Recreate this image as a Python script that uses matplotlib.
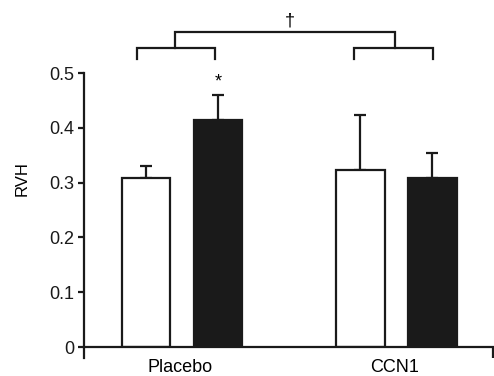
import matplotlib
matplotlib.use('Agg')
import matplotlib.pyplot as plt

# ── Data ───────────────────────────────────────────────
groups      = ['Placebo', 'CCN1']
white_vals  = [0.308, 0.323]
white_err   = [0.022, 0.100]
black_vals  = [0.414, 0.309]
black_err   = [0.046, 0.045]
yticks      = [0, 0.1, 0.2, 0.3, 0.4, 0.5]
ytick_lbls  = ['0', '0.1', '0.2', '0.3', '0.4', '0.5']

# ── Layout ─────────────────────────────────────────────
group_pos = [0.24, 0.764]
offset    = 0.088
width     = 0.118
LW        = 1.6
INK       = '#1a1a1a'

plt.rcParams['font.family'] = ['Liberation Sans', 'DejaVu Sans']

fig = plt.figure(figsize=(4.94, 3.76), dpi=100)
ax = fig.add_axes([84 / 494, 29 / 376, 409 / 494, 337 / 376])

wx = [g - offset for g in group_pos]
bx = [g + offset for g in group_pos]

ax.bar(wx, white_vals, width=width, color='white', edgecolor=INK, linewidth=LW, zorder=2)
ax.bar(bx, black_vals, width=width, color=INK, edgecolor=INK, linewidth=LW, zorder=2)
ax.errorbar(wx, white_vals, yerr=[[0, 0], white_err], fmt='none', ecolor=INK,
            elinewidth=LW, capsize=4.5, capthick=LW, zorder=1)
ax.errorbar(bx, black_vals, yerr=[[0, 0], black_err], fmt='none', ecolor=INK,
            elinewidth=LW, capsize=4.5, capthick=LW, zorder=1)

ax.set_xlim(0, 1)
ax.set_ylim(0, 0.615)

# axes styling
for s in ['top', 'right']:
    ax.spines[s].set_visible(False)
ax.spines['left'].set_bounds(-0.02, 0.5)
for s in ['left', 'bottom']:
    ax.spines[s].set_linewidth(LW)
    ax.spines[s].set_color(INK)

ax.set_yticks(yticks)
ax.set_yticklabels(ytick_lbls, fontsize=13)
ax.tick_params(axis='y', length=4, width=LW, pad=3, colors=INK)

ax.set_xticks([1.0])
ax.set_xticklabels([''])
ax.tick_params(axis='x', length=8, width=LW, colors=INK)
for g, name in zip(group_pos, groups):
    ax.text(g - 0.005, -0.022, name, ha='center', va='top', fontsize=13, clip_on=False)

ax.set_ylabel('RVH', fontsize=12, labelpad=14)

# significance markers
ax.text(bx[0], black_vals[0] + black_err[0] + 0.008, '*', ha='center', va='bottom', fontsize=13)

lo_y, lo_tip = 0.545, 0.525
hi_y, hi_tip = 0.575, 0.545
left_br  = (0.129, 0.320)
right_br = (0.660, 0.853)
for a, b in [left_br, right_br]:
    ax.plot([a, a, b, b], [lo_tip, lo_y, lo_y, lo_tip], color=INK,
            linewidth=LW, clip_on=False, solid_joinstyle='miter')
mid_l = 0.223
mid_r = 0.761
ax.plot([mid_l, mid_l, mid_r, mid_r], [hi_tip, hi_y, hi_y, hi_tip], color=INK,
        linewidth=LW, clip_on=False, solid_joinstyle='miter')
ax.text((mid_l + mid_r) / 2 + 0.01, hi_y + 0.005, '\u2020', ha='center', va='bottom', fontsize=13)

fig.savefig('out.png', dpi=100)
